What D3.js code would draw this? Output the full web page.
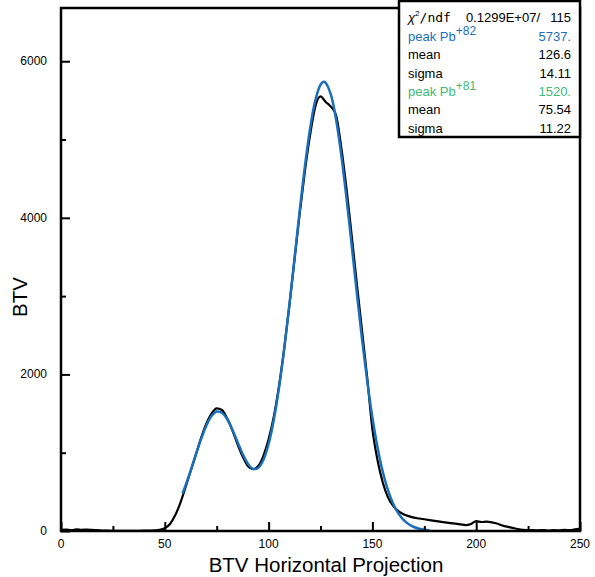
<!DOCTYPE html>
<html>
<head>
<meta charset="utf-8">
<script src="https://cdn.jsdelivr.net/npm/d3@7"></script>
<style>
  body { margin: 0; background: #fff; }
  svg text { font-family: "Liberation Sans", Arial, sans-serif; }
</style>
</head>
<body>
<div id="chart"></div>
<script>
// histogram binning of the projection (bin centres start at 0, 2.5 wide)
var binLow = 0, binWidth = 2.5;
var counts = [
  15, 18, 12, 20, 15, 18, 14, 10, 6, 4,
  3, 2, 2, 3, 2, 3, 4, 5, 8, 14,
  35, 90, 200, 360, 560, 770, 980, 1190, 1370, 1500,
  1565, 1545, 1440, 1290, 1110, 950, 830, 790, 830, 960,
  1170, 1460, 1850, 2330, 2880, 3470, 4060, 4600, 5060, 5420,
  5550, 5480, 5420, 5310, 4900, 4380, 3780, 3160, 2560, 1960,
  1300, 900, 620, 430, 320, 255, 215, 190, 170, 160,
  150, 140, 130, 120, 110, 100, 95, 85, 75, 90,
  125, 115, 120, 110, 95, 70, 55, 40, 25, 15,
  12, 10, 8, 12, 6, 10, 8, 14, 10, 20, 30
];

// fitted double gaussian
var fitX = [58.5, 60, 62.5, 65, 67.5, 70, 72.5, 75, 77.5, 80, 82.5, 85, 87.5, 90, 92.5, 95, 97.5,
  100, 102.5, 105, 107.5, 110, 112.5, 115, 117.5, 120, 122.5, 125, 126.5, 127.5, 130, 132.5, 135,
  137.5, 140, 142.5, 145, 147.5, 150, 152.5, 155, 157.5, 160, 162.5, 165, 167.5, 170, 172.5, 175, 177.5];
var fitY = [480, 583, 774, 978, 1176, 1345, 1468, 1526, 1510, 1430, 1297, 1140, 984, 861, 794, 805, 908,
  1112, 1419, 1826, 2321, 2885, 3487, 4094, 4660, 5143, 5500, 5700, 5737, 5725, 5573, 5257, 4805,
  4256, 3655, 3040, 2452, 1915, 1450, 1064, 757, 521, 348, 225, 141, 86, 51, 29, 16, 9];

var xTicks = [0, 50, 100, 150, 200, 250];
var yTicks = [0, 2000, 4000, 6000];

// stats box rows: label, value, colour key
var statLabels = ["peak Pb", "mean", "sigma", "peak Pb", "mean", "sigma"];
var statSups = ["+82", "", "", "+81", "", ""];
var statValues = ["5737.", "126.6", "14.11", "1520.", "75.54", "11.22"];
var statColors = ["blue", "black", "black", "green", "black", "black"];
var chiLabel = "0.1299E+07/", chiNdf = "115";

var blue = "#1b6fbb", green = "#3dba74";
var colorOf = {blue: blue, green: green, black: "#000"};

var W = 595, H = 577;
var svg = d3.select("#chart").append("svg")
    .attr("width", W)
    .attr("height", H);

var x = d3.scaleLinear().domain([0, 250]).range([61, 580]);
var y = d3.scaleLinear().domain([0, 6680]).range([531, 8]);

// data line
var hist = counts.map(function(c, i) { return {x: binLow + i * binWidth, y: c}; });
var line = d3.line()
    .x(function(d) { return x(d.x); })
    .y(function(d) { return y(d.y); })
    .curve(d3.curveMonotoneX);

svg.append("path")
    .datum(hist)
    .attr("fill", "none")
    .attr("stroke", "#000")
    .attr("stroke-width", 2.2)
    .attr("d", line);

// fit line
var fit = fitX.map(function(v, i) { return {x: v, y: fitY[i]}; });
svg.append("path")
    .datum(fit)
    .attr("fill", "none")
    .attr("stroke", blue)
    .attr("stroke-width", 2.5)
    .attr("d", line.curve(d3.curveCatmullRom));

// frame
svg.append("rect")
    .attr("x", 61).attr("y", 8)
    .attr("width", 519).attr("height", 523)
    .attr("fill", "none")
    .attr("stroke", "#000")
    .attr("stroke-width", 2.5);

// ticks drawn inward, like ROOT
var xAxis = d3.axisBottom(x).tickValues(d3.range(0, 251, 25)).tickSizeInner(-5).tickSizeOuter(0).tickFormat("");
var gx = svg.append("g").attr("transform", "translate(0,531)").call(xAxis);
gx.select(".domain").remove();
gx.selectAll(".tick line")
    .attr("stroke-width", 2)
    .attr("y2", function(d) { return d % 50 == 0 ? -9 : -5; });

var yAxis = d3.axisLeft(y).tickValues(d3.range(0, 6001, 1000)).tickSizeInner(-5).tickSizeOuter(0).tickFormat("");
var gy = svg.append("g").attr("transform", "translate(61,0)").call(yAxis);
gy.select(".domain").remove();
gy.selectAll(".tick line")
    .attr("stroke-width", 2)
    .attr("x2", function(d) { return d % 2000 == 0 ? 9 : 5; });

// tick labels
svg.selectAll(".xlab")
    .data(xTicks)
    .enter().append("text")
    .attr("x", function(d) { return x(d); })
    .attr("y", 548)
    .attr("text-anchor", "middle")
    .style("font-size", "12px")
    .text(function(d) { return d; });

svg.selectAll(".ylab")
    .data(yTicks)
    .enter().append("text")
    .attr("x", 47)
    .attr("y", function(d) { return y(d) + 4; })
    .attr("text-anchor", "end")
    .style("font-size", "12px")
    .text(function(d) { return d; });

// axis titles
svg.append("text")
    .attr("x", 326)
    .attr("y", 572)
    .attr("text-anchor", "middle")
    .style("font-size", "20.5px")
    .text("BTV Horizontal Projection");

svg.append("text")
    .attr("transform", "translate(27,297) rotate(-90)")
    .attr("text-anchor", "middle")
    .style("font-size", "20.5px")
    .text("BTV");

// stats box
var box = svg.append("g");
box.append("rect")
    .attr("x", 399).attr("y", 1)
    .attr("width", 181).attr("height", 136)
    .attr("fill", "#fff")
    .attr("stroke", "#000")
    .attr("stroke-width", 2.5);

var chi = box.append("text").attr("x", 408).attr("y", 22).style("font-size", "13px");
chi.append("tspan").style("font-style", "italic").text("\u03C7");
chi.append("tspan").attr("dy", -6).style("font-size", "8px").text("2");
chi.append("tspan").attr("dy", 6).style("font-family", "DejaVu Sans Mono, monospace").text("/ndf");
box.append("text").attr("x", 540).attr("y", 22).attr("text-anchor", "end")
    .style("font-size", "13px").text(chiLabel);
box.append("text").attr("x", 571).attr("y", 22).attr("text-anchor", "end")
    .style("font-size", "13px").text(chiNdf);

statLabels.forEach(function(lab, i) {
    var yy = 41 + i * 18.3;
    var t = box.append("text").attr("x", 408).attr("y", yy)
        .style("font-size", "13px")
        .attr("fill", colorOf[statColors[i]]);
    t.append("tspan").text(lab);
    if (statSups[i]) {
        t.append("tspan").attr("dy", -6).style("font-size", "12px").text(statSups[i]);
    }
    box.append("text").attr("x", 571).attr("y", yy)
        .attr("text-anchor", "end")
        .style("font-size", "13px")
        .attr("fill", colorOf[statColors[i]])
        .text(statValues[i]);
});
</script>
</body>
</html>
